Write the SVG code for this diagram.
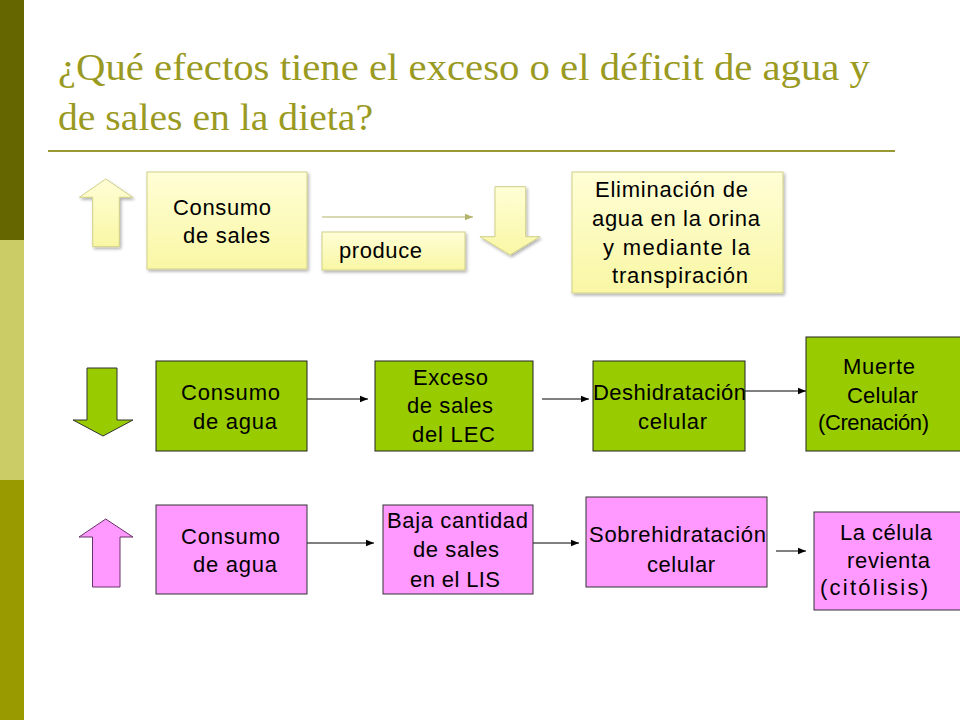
<svg xmlns="http://www.w3.org/2000/svg" width="960" height="720" viewBox="0 0 960 720">
<style>
.t{font-family:"Liberation Sans",Arial,sans-serif;font-size:22px;fill:#000}
.title{font-family:"Liberation Serif","Times New Roman",serif;font-size:37px;fill:#9a9a22}
.yb{fill:url(#yg);stroke:#cfcf88;stroke-width:1;filter:url(#sh)}
.gb{fill:#99cc00;stroke:#222;stroke-width:1}
.pb{fill:#ff99ff;stroke:#333;stroke-width:1}
.conn{stroke:#000;stroke-width:1;fill:none;marker-end:url(#ah)}
</style>
<defs>
<linearGradient id="yg" x1="0" y1="0" x2="0" y2="1">
<stop offset="0" stop-color="#fffed6"/>
<stop offset="1" stop-color="#f9f7a4"/>
</linearGradient>
<filter id="sh" x="-10%" y="-10%" width="130%" height="130%">
<feDropShadow dx="1.5" dy="2" stdDeviation="1.5" flood-color="#000" flood-opacity="0.3"/>
</filter>
<marker id="ah" viewBox="0 0 10 10" refX="10" refY="5" markerWidth="8" markerHeight="8" markerUnits="userSpaceOnUse" orient="auto">
<path d="M0,1 L10,5 L0,9 z" fill="#000"/>
</marker>
<marker id="ahy" viewBox="0 0 10 10" refX="10" refY="5" markerWidth="8" markerHeight="8" markerUnits="userSpaceOnUse" orient="auto">
<path d="M0,1 L10,5 L0,9 z" fill="#b3b36a"/>
</marker>
</defs>
<rect width="960" height="720" fill="#fff"/>
<g id="sidebar">
<rect x="0" y="0" width="24" height="240" fill="#666600"/>
<rect x="0" y="240" width="24" height="240" fill="#cccc66"/>
<rect x="0" y="480" width="24" height="240" fill="#999900"/>
</g>
<g id="title">
<text class="title" x="58" y="80" textLength="812" lengthAdjust="spacingAndGlyphs">¿Qué efectos tiene el exceso o el déficit de agua y</text>
<text class="title" x="58" y="130" textLength="315" lengthAdjust="spacingAndGlyphs">de sales en la dieta?</text>
<rect x="48" y="150" width="847" height="2" fill="#999933"/>
</g>
<g id="connectors">
<line x1="322" y1="217" x2="473" y2="217" stroke="#b3b36a" stroke-width="1.2" marker-end="url(#ahy)"/>
<line class="conn" x1="307" y1="399" x2="368" y2="399"/>
<line class="conn" x1="542" y1="399" x2="589" y2="399"/>
<line class="conn" x1="745" y1="391" x2="806" y2="391"/>
<line class="conn" x1="307" y1="543" x2="374" y2="543"/>
<line class="conn" x1="533" y1="543" x2="579" y2="543"/>
<line class="conn" x1="776" y1="551" x2="806" y2="551"/>
</g>
<g id="arrow-up-yellow">
<path class="yb" d="M105.7,179 L132.7,197.3 L119.3,197.3 L119.3,246.7 L92.7,246.7 L92.7,197.3 L79.3,197.3 Z"/>
</g>
<g id="consumo-sales">
<rect class="yb" x="147" y="172" width="160" height="97"/>
<text class="t" x="173" y="215" textLength="98" lengthAdjust="spacing">Consumo</text>
<text class="t" x="183" y="243" textLength="87" lengthAdjust="spacing">de sales</text>
</g>
<g id="produce">
<rect class="yb" x="322" y="232" width="143" height="38"/>
<text class="t" x="339" y="258" textLength="83" lengthAdjust="spacing">produce</text>
</g>
<g id="arrow-down-yellow">
<path class="yb" d="M495,186.7 L525.7,186.7 L525.7,236.7 L540,236.7 L510,255 L480,236.7 L495,236.7 Z"/>
</g>
<g id="eliminacion">
<rect class="yb" x="572" y="172" width="211" height="121"/>
<text class="t" x="595" y="197" textLength="153" lengthAdjust="spacing">Eliminación de</text>
<text class="t" x="592" y="226" textLength="168" lengthAdjust="spacing">agua en la orina</text>
<text class="t" x="603" y="255" textLength="147" lengthAdjust="spacing">y mediante la</text>
<text class="t" x="612" y="283" textLength="136" lengthAdjust="spacing">transpiración</text>
</g>
<g id="arrow-down-green">
<path d="M87,368 L117,368 L117,420 L133,420 L103,436 L73,420 L87,420 Z" fill="#99cc00" stroke="#333" stroke-width="1"/>
</g>
<g id="consumo-agua-1">
<rect class="gb" x="156" y="361" width="151" height="90"/>
<text class="t" x="181" y="400" textLength="99" lengthAdjust="spacing">Consumo</text>
<text class="t" x="193" y="429" textLength="84" lengthAdjust="spacing">de agua</text>
</g>
<g id="exceso">
<rect class="gb" x="375" y="361" width="158" height="90"/>
<text class="t" x="413" y="385" textLength="75" lengthAdjust="spacing">Exceso</text>
<text class="t" x="407" y="413" textLength="86" lengthAdjust="spacing">de sales</text>
<text class="t" x="412" y="442" textLength="83" lengthAdjust="spacing">del LEC</text>
</g>
<g id="deshidratacion">
<rect class="gb" x="593" y="361" width="152" height="90"/>
<text class="t" x="593" y="400" textLength="153" lengthAdjust="spacing">Deshidratación</text>
<text class="t" x="638" y="429" textLength="69" lengthAdjust="spacing">celular</text>
</g>
<g id="muerte">
<rect class="gb" x="806" y="337" width="160" height="114"/>
<text class="t" x="843" y="374" textLength="72" lengthAdjust="spacing">Muerte</text>
<text class="t" x="847" y="403" textLength="71" lengthAdjust="spacing">Celular</text>
<text class="t" x="818" y="430" textLength="111" lengthAdjust="spacing">(Crenación)</text>
</g>
<g id="arrow-up-pink">
<path d="M105.7,519 L133,537 L120,537 L120,587 L92.5,587 L92.5,537 L79,537 Z" fill="#ff99ff" stroke="#663366" stroke-width="1"/>
</g>
<g id="consumo-agua-2">
<rect class="pb" x="156" y="505" width="151" height="89"/>
<text class="t" x="181" y="544" textLength="99" lengthAdjust="spacing">Consumo</text>
<text class="t" x="193" y="572" textLength="84" lengthAdjust="spacing">de agua</text>
</g>
<g id="baja">
<rect class="pb" x="383" y="505" width="150" height="89"/>
<text class="t" x="387" y="528" textLength="141" lengthAdjust="spacing">Baja cantidad</text>
<text class="t" x="413" y="557" textLength="86" lengthAdjust="spacing">de sales</text>
<text class="t" x="410" y="587" textLength="90" lengthAdjust="spacing">en el LIS</text>
</g>
<g id="sobrehidratacion">
<rect class="pb" x="586" y="497" width="181" height="90"/>
<text class="t" x="589" y="542" textLength="177" lengthAdjust="spacing">Sobrehidratación</text>
<text class="t" x="647" y="572" textLength="68" lengthAdjust="spacing">celular</text>
</g>
<g id="celula-revienta">
<rect class="pb" x="814" y="512" width="150" height="98"/>
<text class="t" x="840" y="540" textLength="92" lengthAdjust="spacing">La célula</text>
<text class="t" x="847" y="568" textLength="83" lengthAdjust="spacing">revienta</text>
<text class="t" x="820" y="595" textLength="108" lengthAdjust="spacing">(citólisis)</text>
</g>
</svg>
